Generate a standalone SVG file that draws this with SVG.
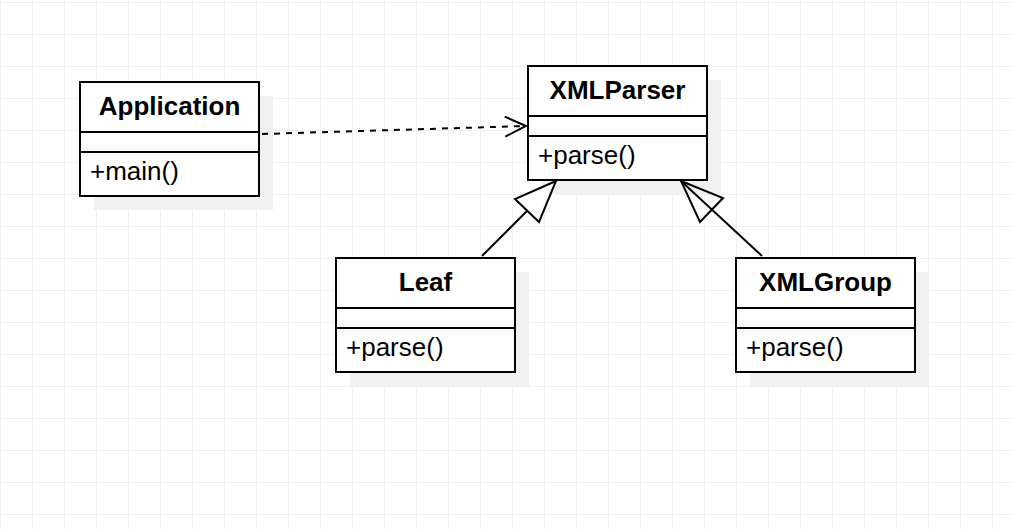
<svg xmlns="http://www.w3.org/2000/svg" width="1012" height="530" viewBox="0 0 1012 530">
<defs>
<pattern id="grid" x="0" y="2" width="32" height="32" patternUnits="userSpaceOnUse">
<path d="M0.5 0 V32 M0 0.5 H32" stroke="#efefef" stroke-width="1" fill="none"/>
</pattern>
<marker id="open" viewBox="0 0 24 22" refX="22" refY="11" markerWidth="24" markerHeight="22" markerUnits="userSpaceOnUse" orient="auto">
<path d="M1 1 L22 11 L1 21" fill="none" stroke="#000" stroke-width="2"/>
</marker>
</defs>
<style>
.shadow{fill:#f0f0f0}
.box{fill:#fff;stroke:#000;stroke-width:2}
.div{stroke:#000;stroke-width:2}
.title{font-family:"Liberation Sans",Arial,sans-serif;font-size:26px;font-weight:bold;text-anchor:middle;fill:#000}
.member{font-family:"Liberation Sans",Arial,sans-serif;font-size:26px;fill:#000}
.line{stroke:#000;stroke-width:2;fill:none}
</style>
<rect width="1012" height="530" fill="#fff"/>
<rect width="1012" height="530" fill="url(#grid)"/>

<g id="Application">
<rect class="shadow" x="94" y="96" width="179" height="114"/>
<rect class="box" x="80" y="82" width="179" height="114"/>
<path class="div" d="M80 132 H259 M80 152 H259"/>
<text class="title" x="169.5" y="115">Application</text>
<text class="member" x="90" y="180">+main()</text>
</g>

<g id="XMLParser">
<rect class="shadow" x="542" y="80" width="179" height="114"/>
<rect class="box" x="528" y="66" width="179" height="114"/>
<path class="div" d="M528 116 H707 M528 136 H707"/>
<text class="title" x="617.5" y="99">XMLParser</text>
<text class="member" x="538" y="164">+parse()</text>
</g>

<g id="Leaf">
<rect class="shadow" x="350" y="272" width="179" height="114"/>
<rect class="box" x="336" y="258" width="179" height="114"/>
<path class="div" d="M336 308 H515 M336 328 H515"/>
<text class="title" x="425.5" y="291">Leaf</text>
<text class="member" x="346" y="356">+parse()</text>
</g>

<g id="XMLGroup">
<rect class="shadow" x="750" y="272" width="179" height="114"/>
<rect class="box" x="736" y="258" width="179" height="114"/>
<path class="div" d="M736 308 H915 M736 328 H915"/>
<text class="title" x="825.5" y="291">XMLGroup</text>
<text class="member" x="746" y="356">+parse()</text>
</g>

<g id="connectors">
<path class="line" d="M262 134 L526 126" stroke-dasharray="6 6" marker-end="url(#open)"/>
<path class="line" d="M482 256 L527 211"/>
<path class="line" d="M762 256 L681 181"/>
<path d="M556 181 L515 199 L539 222 Z" fill="#fff" stroke="#000" stroke-width="2" stroke-linejoin="miter"/>
<path d="M681 181 L723 198 L700 222 Z" fill="none" stroke="#000" stroke-width="2" stroke-linejoin="miter"/>
</g>
</svg>
